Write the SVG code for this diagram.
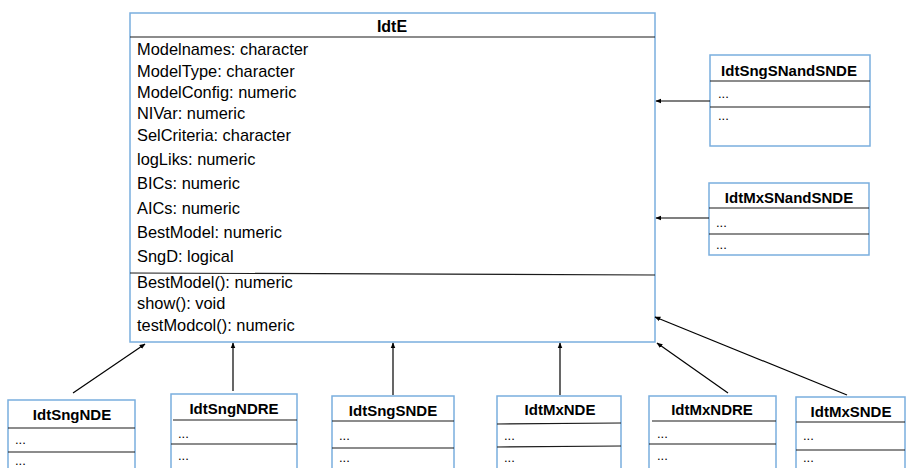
<svg xmlns="http://www.w3.org/2000/svg" width="908" height="468" viewBox="0 0 908 468">
<style>
.box{fill:#fff;stroke:#7aaede;stroke-width:1.5}
.sep{stroke:#1a1a1a;stroke-width:1.2}
.t{font-family:"Liberation Sans",Arial,sans-serif;font-size:16.4px;fill:#000}
.h{font-family:"Liberation Sans",Arial,sans-serif;font-size:16px;font-weight:bold;fill:#000;text-anchor:middle}
.hs{font-family:"Liberation Sans",Arial,sans-serif;font-size:15px;font-weight:bold;fill:#000;text-anchor:middle}
.d{font-family:"Liberation Sans",Arial,sans-serif;font-size:13px;fill:#000}
.c{stroke:#000;stroke-width:1.2;fill:none;marker-end:url(#ah)}
</style>
<defs>
<marker id="ah" viewBox="0 0 10 10" refX="9" refY="5" markerWidth="6" markerHeight="6" orient="auto" markerUnits="userSpaceOnUse">
<path d="M0,1 L10,5 L0,9 z" fill="#000"/>
</marker>
</defs>
<rect width="908" height="468" fill="#fff"/>
<g id="IdtE">
<rect class="box" x="130" y="13" width="525" height="329"/>
<line class="sep" x1="130" y1="37" x2="655" y2="37"/>
<line class="sep" x1="130" y1="273" x2="655" y2="275"/>
<text class="h" x="392" y="32">IdtE</text>
<text class="t" x="137" y="55">Modelnames: character</text>
<text class="t" x="137" y="77">ModelType: character</text>
<text class="t" x="137" y="98">ModelConfig: numeric</text>
<text class="t" x="137" y="119">NIVar: numeric</text>
<text class="t" x="137" y="141">SelCriteria: character</text>
<text class="t" x="137" y="165">logLiks: numeric</text>
<text class="t" x="137" y="189">BICs: numeric</text>
<text class="t" x="137" y="214">AICs: numeric</text>
<text class="t" x="137" y="238">BestModel: numeric</text>
<text class="t" x="137" y="262">SngD: logical</text>
<text class="t" x="137" y="288">BestModel(): numeric</text>
<text class="t" x="137" y="309">show(): void</text>
<text class="t" x="137" y="331">testModcol(): numeric</text>
</g>
<g id="IdtSngSNandSNDE">
<rect class="box" x="710" y="55" width="160" height="91"/>
<line class="sep" x1="710" y1="81" x2="870" y2="81"/>
<line class="sep" x1="710" y1="107" x2="870" y2="107"/>
<text class="hs" x="789" y="76">IdtSngSNandSNDE</text>
<text class="d" x="718" y="98">...</text>
<text class="d" x="718" y="120">...</text>
</g>
<g id="IdtMxSNandSNDE">
<rect class="box" x="709" y="183" width="160" height="72"/>
<line class="sep" x1="709" y1="208" x2="869" y2="208"/>
<line class="sep" x1="709" y1="234" x2="869" y2="234"/>
<text class="hs" x="789" y="203">IdtMxSNandSNDE</text>
<text class="d" x="716" y="227">...</text>
<text class="d" x="716" y="249">...</text>
</g>
<g id="IdtSngNDE">
<rect class="box" x="8" y="400" width="127" height="75"/>
<line class="sep" x1="8" y1="428" x2="135" y2="428"/>
<line class="sep" x1="8" y1="452" x2="135" y2="452"/>
<text class="hs" x="72" y="420">IdtSngNDE</text>
<text class="d" x="15" y="444">...</text>
<text class="d" x="15" y="465">...</text>
</g>
<g id="IdtSngNDRE">
<rect class="box" x="171" y="394" width="126" height="80"/>
<line class="sep" x1="173" y1="420" x2="297" y2="420"/>
<line class="sep" x1="171" y1="444" x2="297" y2="444"/>
<text class="hs" x="234" y="414">IdtSngNDRE</text>
<text class="d" x="178" y="438">...</text>
<text class="d" x="178" y="460">...</text>
</g>
<g id="IdtSngSNDE">
<rect class="box" x="332" y="396" width="122" height="78"/>
<line class="sep" x1="332" y1="421" x2="454" y2="421"/>
<line class="sep" x1="332" y1="448" x2="454" y2="448"/>
<text class="hs" x="393" y="416">IdtSngSNDE</text>
<text class="d" x="339" y="440">...</text>
<text class="d" x="339" y="462">...</text>
</g>
<g id="IdtMxNDE">
<rect class="box" x="497" y="396" width="124" height="78"/>
<line class="sep" x1="497" y1="424" x2="621" y2="423"/>
<line class="sep" x1="497" y1="447" x2="621" y2="446"/>
<text class="hs" x="560" y="415">IdtMxNDE</text>
<text class="d" x="504" y="440">...</text>
<text class="d" x="504" y="462">...</text>
</g>
<g id="IdtMxNDRE">
<rect class="box" x="649" y="396" width="127" height="78"/>
<line class="sep" x1="652" y1="421" x2="776" y2="421"/>
<line class="sep" x1="649" y1="444" x2="776" y2="444"/>
<text class="hs" x="712" y="415">IdtMxNDRE</text>
<text class="d" x="657" y="438">...</text>
<text class="d" x="657" y="460">...</text>
</g>
<g id="IdtMxSNDE">
<rect class="box" x="796" y="397" width="109" height="78"/>
<line class="sep" x1="796" y1="422" x2="905" y2="422"/>
<line class="sep" x1="796" y1="450" x2="905" y2="450"/>
<text class="hs" x="851" y="417">IdtMxSNDE</text>
<text class="d" x="803" y="440">...</text>
<text class="d" x="803" y="462">...</text>
</g>
<g id="connectors">
<line class="c" x1="710" y1="101" x2="656" y2="101"/>
<line class="c" x1="709" y1="218" x2="656" y2="218"/>
<line class="c" x1="73" y1="393" x2="145" y2="344"/>
<line class="c" x1="233" y1="391" x2="233" y2="343"/>
<line class="c" x1="393" y1="395" x2="393" y2="343"/>
<line class="c" x1="560" y1="395" x2="560" y2="343"/>
<line class="c" x1="728" y1="393" x2="657" y2="343"/>
<line class="c" x1="847" y1="395" x2="655" y2="317"/>
</g>
</svg>
